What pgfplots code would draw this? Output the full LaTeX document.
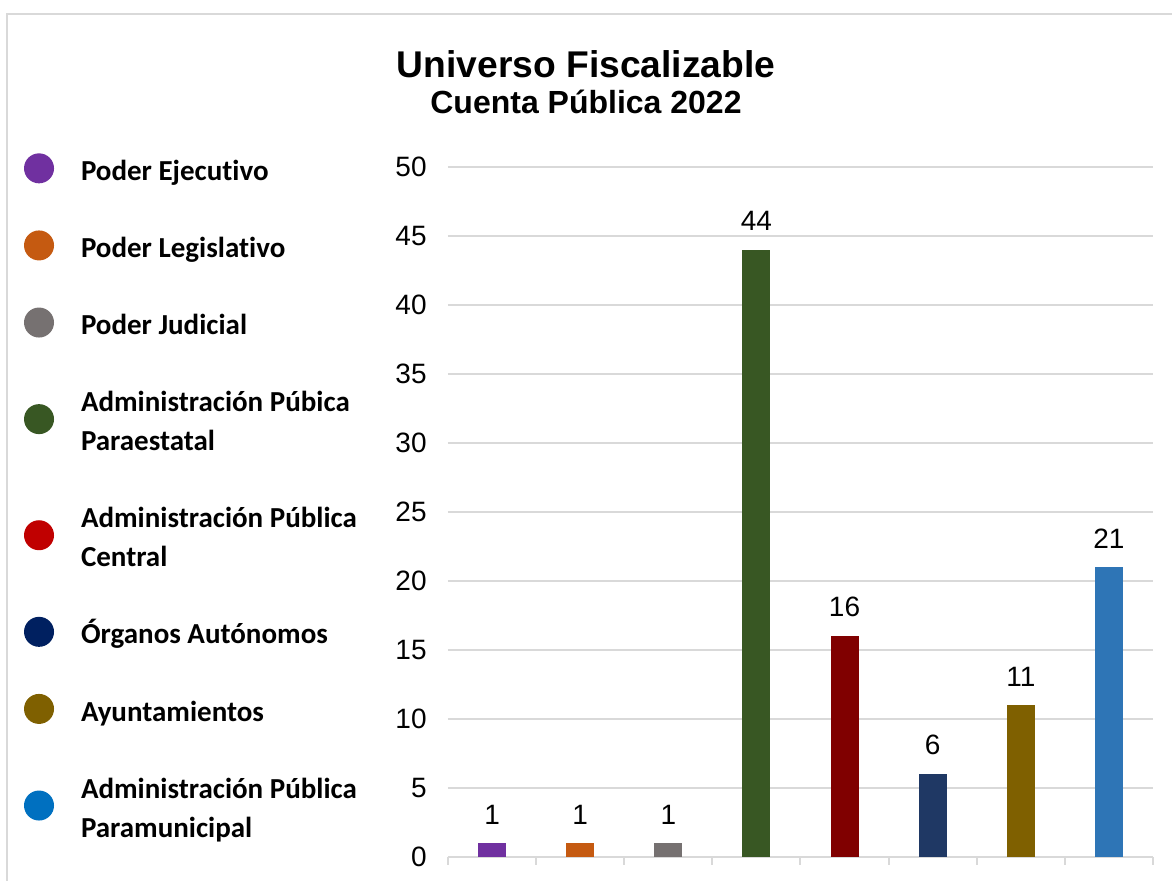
\documentclass[border=0pt]{standalone}
\usepackage{fontspec}
\setmainfont{Liberation Sans}
\newfontfamily\carlito[Ligatures={NoCommon,NoRare,NoContextual}]{Carlito}
\usepackage{pgfplots}
\pgfplotsset{compat=1.18}

% bar colours
\definecolor{bPE}{HTML}{7030A0}
\definecolor{bPL}{HTML}{C55A11}
\definecolor{bPJ}{HTML}{767171}
\definecolor{bAPP}{HTML}{385723}
\definecolor{bAPC}{HTML}{800000}
\definecolor{bOA}{HTML}{1F3864}
\definecolor{bAY}{HTML}{7F6000}
\definecolor{bAPM}{HTML}{2E75B6}
% legend colours
\definecolor{lAPC}{HTML}{C00000}
\definecolor{lOA}{HTML}{002060}
\definecolor{lAPM}{HTML}{0070C0}
\definecolor{gcol}{HTML}{D9D9D9}

\begin{document}
\begin{tikzpicture}
\useasboundingbox (-224pt,-12pt) rectangle (362pt,428.5pt);
\begin{axis}[
  at={(0pt,0pt)}, anchor=south west,
  scale only axis, width=352.5pt, height=345pt,
  ybar, bar width=14pt,
  xmin=-0.5, xmax=7.5, ymin=0, ymax=50,
  xtick={-0.5,0.5,...,7.5}, xticklabels={},
  ytick={0,5,...,50},
  axis x line=bottom, axis y line=left, axis line style={-},
  y axis line style={draw=none},
  x axis line style={draw=gcol, line width=1.3pt},
  ytick style={draw=none},
  xtick style={draw=gcol, line width=1pt},
  tick align=outside, major tick length=4pt,
  ymajorgrids, grid style={gcol, line width=1pt},
  /pgf/number format/assume math mode=true,
  yticklabel style={font=\fontsize{14}{16}\selectfont, inner sep=0pt, xshift=-6.5pt},
  nodes near coords,
  every node near coord/.append style={font=\fontsize{14}{16}\selectfont, text=black, yshift=6pt},
  legend style={draw=none, fill=none, at={(-0.6014,0.5222)}, anchor=west,
    inner sep=0pt, outer sep=0pt, row sep=23.4pt, column sep=13.5pt,
    cells={anchor=west},
    nodes={inner sep=0pt, align=left, font=\carlito\bfseries\fontsize{14.5}{19.5}\selectfont}},
  legend image code/.code={\path[#1, draw=none] (7.5pt,0pt) circle (7.5pt);},
  clip=false,
]
\addplot[fill=bPE, draw=none, bar shift=0pt, forget plot] coordinates {(0,1)};
\addplot[fill=bPL, draw=none, bar shift=0pt, forget plot] coordinates {(1,1)};
\addplot[fill=bPJ, draw=none, bar shift=0pt, forget plot] coordinates {(2,1)};
\addplot[fill=bAPP, draw=none, bar shift=0pt, forget plot] coordinates {(3,44)};
\addplot[fill=bAPC, draw=none, bar shift=0pt, forget plot] coordinates {(4,16)};
\addplot[fill=bOA, draw=none, bar shift=0pt, forget plot] coordinates {(5,6)};
\addplot[fill=bAY, draw=none, bar shift=0pt, forget plot] coordinates {(6,11)};
\addplot[fill=bAPM, draw=none, bar shift=0pt, forget plot] coordinates {(7,21)};

\addlegendimage{fill=bPE, draw=none}
\addlegendentry{\strut Poder Ejecutivo}
\addlegendimage{fill=bPL, draw=none}
\addlegendentry{\strut Poder Legislativo}
\addlegendimage{fill=bPJ, draw=none}
\addlegendentry{\strut Poder Judicial}
\addlegendimage{fill=bAPP, draw=none}
\addlegendentry{\strut Administración Púbica\\\strut Paraestatal}
\addlegendimage{fill=lAPC, draw=none}
\addlegendentry{\strut Administración Pública\\\strut Central}
\addlegendimage{fill=lOA, draw=none}
\addlegendentry{\strut Órganos Autónomos}
\addlegendimage{fill=bAY, draw=none}
\addlegendentry{\strut Ayuntamientos}
\addlegendimage{fill=lAPM, draw=none}
\addlegendentry{\strut Administración Pública\\\strut Paramunicipal}
\end{axis}

% outer frame (only left and top edges are visible)
\draw[gcol, line width=1pt] (-220.5pt,-12pt) -- (-220.5pt,421.5pt) -- (362pt,421.5pt);

\node[anchor=base, inner sep=0pt, font=\bfseries\fontsize{18.6}{22}\selectfont] at (69pt,389.5pt) {Universo Fiscalizable};
\node[anchor=base, inner sep=0pt, font=\bfseries\fontsize{16}{19}\selectfont] at (69pt,371.5pt) {Cuenta Pública 2022};
\end{tikzpicture}
\end{document}
